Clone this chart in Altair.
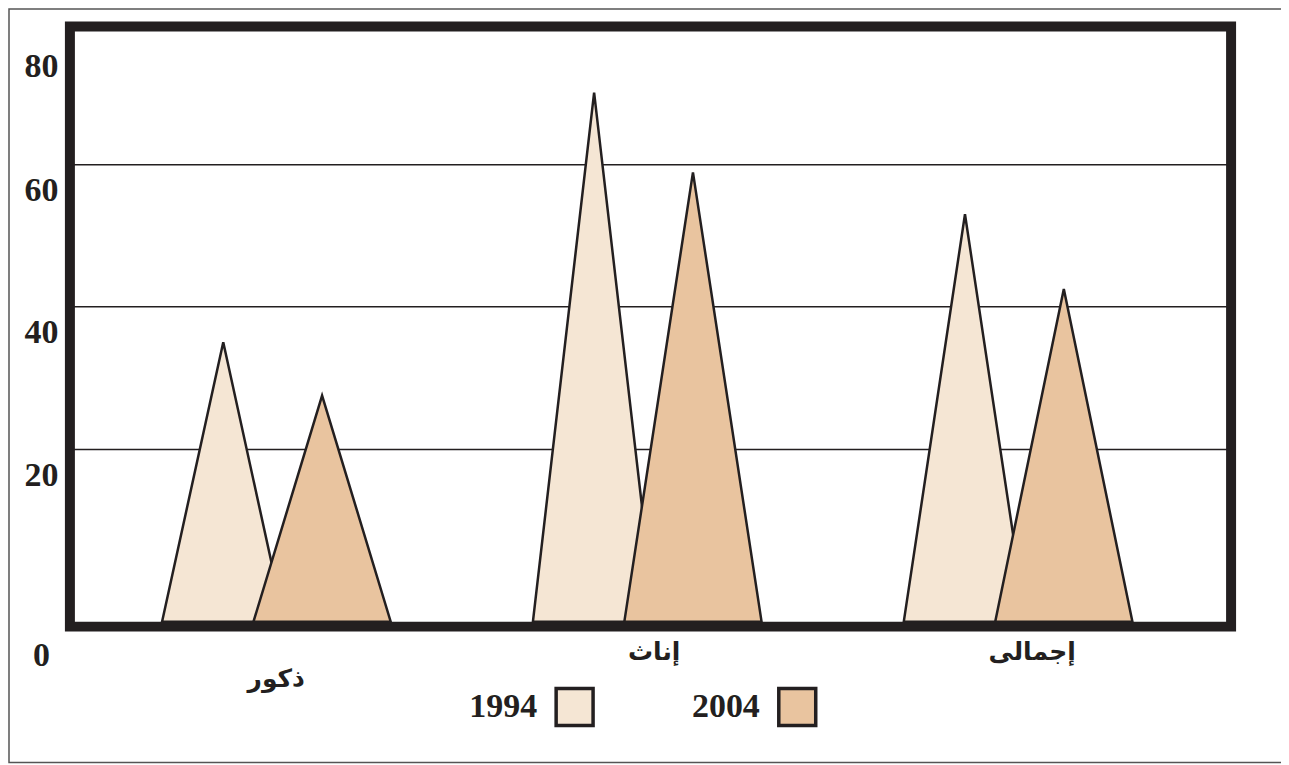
import json
import altair as alt
import pandas as pd

# ---- data ----
categories = ["ذكور", "إناث", "إجمالى"]
years = ["1994", "2004"]
values_1994 = [39.3, 74.4, 57.3]
values_2004 = [31.8, 63.2, 46.8]
y_ticks = [0, 20, 40, 60, 80]
colors = ["#f5e6d4", "#e9c49f"]

# ---- layout constants (group units: one category group = 1.0) ----
peak_offset = {"1994": 0.4135, "2004": 0.68}
half_width = {"1994": 0.165, "2004": 0.185}
label_start = 0.555
label_step = 1.019
x_max = 3.131

series = {"1994": values_1994, "2004": values_2004}
rows = []
for i, cat in enumerate(categories):
    for year in years:
        c = i + peak_offset[year]
        hw = half_width[year]
        v = series[year][i]
        for k, (x, y) in enumerate([(c - hw, 0.0), (c, v), (c + hw, 0.0)]):
            rows.append({"cat": cat, "year": year, "tri": f"{year}-{i}", "x": x, "v": y, "k": k})
df = pd.DataFrame(rows)

ink = "#231f20"
label_expr = (json.dumps(categories, ensure_ascii=False)
              + f"[round((datum.value - {label_start}) / {label_step})]")

x_axis = alt.Axis(
    title=None, values=[label_start + i * label_step for i in range(len(categories))],
    labelExpr=label_expr, domain=False, ticks=False, grid=False,
    labelFont="DejaVu Sans", labelFontWeight="bold", labelFontSize=25, labelColor=ink,
    labelBaseline="top", labelFlush=False, labelOverlap=False,
    labelPadding={"condition": {"test": "datum.value < 1", "value": 40}, "value": 13},
)

y_axis = alt.Axis(
    title=None, values=y_ticks, domain=False, ticks=False, tickSize=0,
    grid=True, gridColor=ink, gridWidth=1.5,
    gridOpacity={"condition": {"test": "datum.value == 0 || datum.value == 80", "value": 0}, "value": 1},
    tickOffset=-30.7,
    labelOffset={"condition": [{"test": "datum.value == 0", "value": 65},
                               {"test": "datum.value == 80", "value": 44}], "value": 26.4},
    labelFont="Liberation Serif", labelFontWeight="bold", labelFontSize=34, labelColor=ink,
    labelAlign="center", labelBaseline="middle", labelPadding=29,
    labelOverlap=False, labelFlush=False,
)

legend = alt.Legend(
    title=None, orient="none", legendX=485, legendY=661, direction="horizontal",
    symbolType="square", symbolSize=1369, symbolStrokeColor=ink, symbolStrokeWidth=3.5,
    symbolOpacity=1,
    labelFont="Liberation Serif", labelFontWeight="bold", labelFontSize=34, labelColor=ink,
    labelAlign="right", labelOffset={"expr": "-58"}, columnPadding=92,
)

tri = alt.Chart(df).mark_area(stroke=ink, strokeWidth=2.5, opacity=1, strokeJoin="miter").encode(
    x=alt.X("x:Q", scale=alt.Scale(domain=[0, x_max], nice=False, zero=False), axis=x_axis),
    y=alt.Y("v:Q", stack=None, scale=alt.Scale(domain=[-0.7, 83.7], nice=False, zero=False), axis=y_axis),
    color=alt.Color("year:N", scale=alt.Scale(domain=years, range=colors), legend=legend),
    detail="tri:N",
)

border = alt.Chart(pd.DataFrame({"a": [0]})).mark_rect(
    fill="white", fillOpacity=0, stroke="#555555", strokeWidth=1.5
).encode(x=alt.value(-61), x2=alt.value(1300), y=alt.value(-17.5), y2=alt.value(737))

chart = alt.layer(border, tri).properties(
    width=1163, height=601, autosize="none",
    padding={"left": 62, "top": 18, "right": 50, "bottom": 139},
    background="white",
).configure_view(stroke=ink, strokeWidth=10)

chart.save("out.html", embed_options={"renderer": "svg", "actions": False})
